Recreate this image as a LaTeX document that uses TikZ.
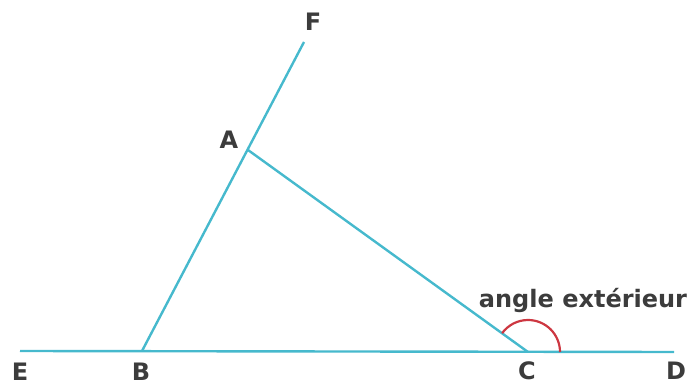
\documentclass[tikz,border=0pt]{standalone}
\usepackage{fontspec}
\setmainfont{DejaVu Sans}
\usetikzlibrary{calc}
\definecolor{seg}{RGB}{70,185,205}
\definecolor{arcred}{RGB}{205,55,65}
\definecolor{txt}{RGB}{60,60,60}
\begin{document}
\begin{tikzpicture}[x=1pt,y=-1pt,
  seg/.style={draw=seg,line width=2.4pt},
  lbl/.style={text=txt,font=\bfseries\fontsize{24}{26}\selectfont,inner sep=0pt}]
\useasboundingbox (0,0) rectangle (689,390);
\coordinate (E) at (20,351);
\coordinate (B) at (142,351);
\coordinate (C) at (528,352);
\coordinate (D) at (674,352);
\coordinate (A) at (248,150);
\coordinate (F) at (304,42);
\draw[seg] (E) -- (D);
\draw[seg] (B) -- (F);
\draw[seg] (A) -- (C);
\draw[draw=arcred,line width=2.2pt] ($(C)+(32,0)$) arc[start angle=0,end angle=-144,radius=32];
\node[lbl] (lE) at (20,372) {E};
\node[lbl] (lB) at (141,372) {B};
\node[lbl] (lC) at (527,371) {C};
\node[lbl] (lD) at (676,371) {D};
\node[lbl] (lA) at (229,140) {A};
\node[lbl] (lF) at (313,22) {F};
\node[lbl,anchor=base] (lang) at (583,308) {angle extérieur};
\end{tikzpicture}
\end{document}
